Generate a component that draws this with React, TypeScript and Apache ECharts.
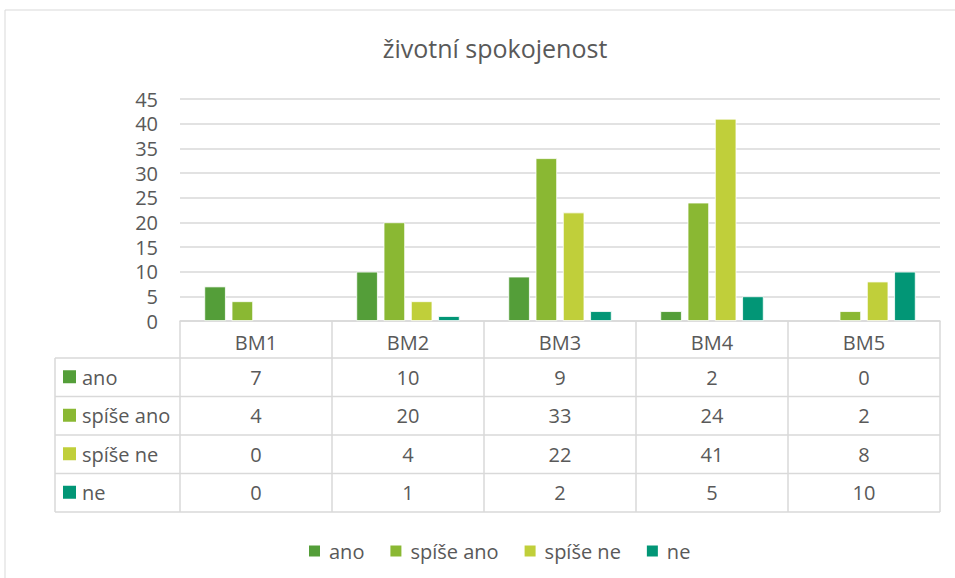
import React, { useEffect, useRef } from "react";
import * as echarts from "echarts";

const categories = ["BM1", "BM2", "BM3", "BM4", "BM5"];
const seriesNames = ["ano", "spíše ano", "spíše ne", "ne"];
const ano = [7, 10, 9, 2, 0];
const spiseAno = [4, 20, 33, 24, 2];
const spiseNe = [0, 4, 22, 41, 8];
const ne = [0, 1, 2, 5, 10];
const seriesValues = [ano, spiseAno, spiseNe, ne];
const colors = ["#549e39", "#8ab833", "#c0cf3a", "#029676"];
const yTicks = [0, 5, 10, 15, 20, 25, 30, 35, 40, 45];

const FONT = "'Open Sans', sans-serif";
const TXT = "#595959";
const LINE = "#d9d9d9";

export default function App() {
  const ref = useRef<HTMLDivElement>(null);
  useEffect(() => {
    if (!ref.current) return;
    const chart = echarts.init(ref.current, null, { renderer: "svg" });
    const W = 955;
    const H = 578;
    const gridLeft = 180;
    const gridRight = 15;
    const gridTop = 99;
    const axisY = 321;
    const tableLeft = 55;
    const headerBottom = 358;
    const rowH = 38.5;
    const plotRight = W - gridRight;
    const colW = (plotRight - gridLeft) / categories.length;

    const graphic: any[] = [];
    graphic.push({
      type: "rect",
      shape: { x: 5, y: 10, width: 990, height: 600 },
      style: { fill: "none", stroke: LINE, lineWidth: 1 },
      silent: true,
    });
    const tableBottom = headerBottom + rowH * seriesNames.length;
    for (let i = 0; i <= seriesNames.length; i++) {
      const y = headerBottom + rowH * i;
      graphic.push({
        type: "line",
        shape: { x1: tableLeft, y1: y, x2: plotRight, y2: y },
        style: { stroke: LINE, lineWidth: 1.5 },
        silent: true,
      });
    }
    graphic.push({
      type: "line",
      shape: { x1: tableLeft, y1: headerBottom, x2: tableLeft, y2: tableBottom },
      style: { stroke: LINE, lineWidth: 1.5 },
      silent: true,
    });
    for (let j = 0; j <= categories.length; j++) {
      const x = gridLeft + colW * j;
      graphic.push({
        type: "line",
        shape: { x1: x, y1: axisY, x2: x, y2: tableBottom },
        style: { stroke: LINE, lineWidth: 1.5 },
        silent: true,
      });
    }
    seriesNames.forEach((name, i) => {
      const cy = headerBottom + rowH * i + rowH / 2;
      graphic.push({
        type: "rect",
        shape: { x: 63, y: cy - 7, width: 13, height: 13 },
        style: { fill: colors[i] },
        silent: true,
      });
      graphic.push({
        type: "text",
        x: 82,
        y: cy,
        style: {
          text: name,
          fill: TXT,
          font: `20px ${FONT}`,
          textVerticalAlign: "middle",
          textAlign: "left",
        },
        silent: true,
      });
      seriesValues[i].forEach((v, j) => {
        graphic.push({
          type: "text",
          x: gridLeft + colW * j + colW / 2,
          y: cy,
          style: {
            text: String(v),
            fill: TXT,
            font: `20px ${FONT}`,
            textVerticalAlign: "middle",
            textAlign: "center",
          },
          silent: true,
        });
      });
    });

    chart.setOption({
      animation: false,
      backgroundColor: "#fff",
      title: {
        text: "životní spokojenost",
        left: 490,
        top: 30,
        textAlign: "center",
        textStyle: { fontFamily: FONT, fontSize: 25, fontWeight: "normal", color: TXT },
      },
      legend: {
        data: seriesNames,
        left: 302,
        top: 536,
        itemWidth: 13,
        itemHeight: 13,
        itemGap: 24,
        icon: "rect",
        textStyle: { fontFamily: FONT, fontSize: 20, color: TXT, padding: [0, 0, 0, 3] },
      },
      grid: {
        left: gridLeft,
        right: gridRight,
        top: gridTop,
        bottom: H - axisY,
        containLabel: false,
      },
      xAxis: {
        type: "category",
        data: categories,
        axisLine: { show: true, lineStyle: { color: LINE, width: 1.5 } },
        axisTick: { show: false },
        axisLabel: {
          margin: 11,
          fontFamily: FONT,
          fontSize: 20,
          color: TXT,
        },
      },
      yAxis: {
        type: "value",
        min: 0,
        max: 45,
        interval: 5,
        axisLine: { show: false },
        axisTick: { show: false },
        splitLine: { lineStyle: { color: LINE, width: 1.5 } },
        axisLabel: {
          margin: 22,
          fontFamily: FONT,
          fontSize: 20,
          color: TXT,
          formatter: (v: number) => (yTicks.includes(v) ? String(v) : ""),
        },
      },
      series: seriesNames.map((name, i) => ({
        name,
        type: "bar",
        data: seriesValues[i].map((v) => (v === 0 ? null : v)),
        barCategoryGap: "32%",
        barGap: "27%",
        itemStyle: { color: colors[i], borderColor: "#ffffff", borderWidth: 0.8 },
      })),
      graphic,
    });
    return () => chart.dispose();
  }, []);
  return (
    <div
      ref={ref}
      style={{ position: "fixed", left: 0, top: 0, width: 955, height: 578 }}
    />
  );
}
